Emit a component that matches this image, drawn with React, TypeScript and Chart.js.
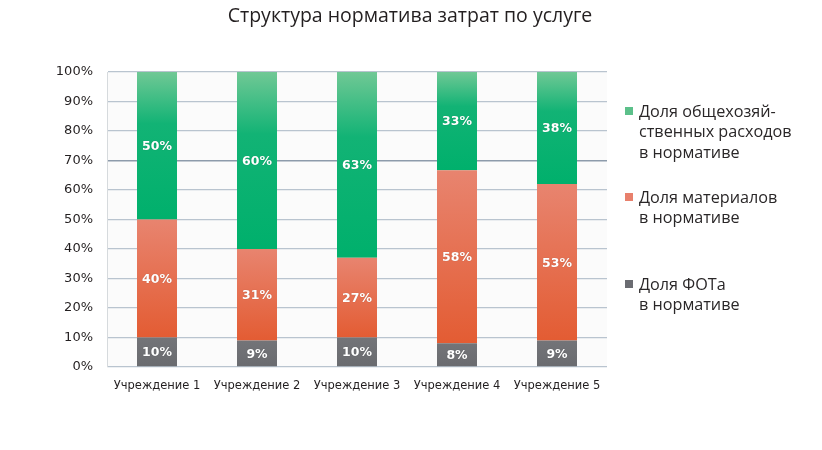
import { useEffect, useRef } from 'react';
import { Chart, registerables } from 'chart.js';

Chart.register(...registerables);

const titleText = 'Структура норматива затрат по услуге';
const categories = ['Учреждение 1', 'Учреждение 2', 'Учреждение 3', 'Учреждение 4', 'Учреждение 5'];
const fotShare = [10, 9, 10, 8, 9];
const materialsShare = [40, 31, 27, 58, 53];
const overheadShare = [50, 60, 63, 33, 38];
const yTickValues = [0, 10, 20, 30, 40, 50, 60, 70, 80, 90, 100];
const fotLegend = ['Доля ФОТа', 'в нормативе'];
const materialsLegend = ['Доля материалов', 'в нормативе'];
const overheadLegend = ['Доля общехозяй-', 'ственных расходов', 'в нормативе'];

const totals = categories.map((_, i) => fotShare[i] + materialsShare[i] + overheadShare[i]);
const normalize = (arr: number[]) => arr.map((v, i) => (v / totals[i]) * 100);
const rawSeries = [fotShare, materialsShare, overheadShare];

const GRAY = '#6e6f73';
const RED = '#e4603a';
const GREEN = '#00b26f';

function gradientFill(kind: 'gray' | 'red' | 'green') {
  return (ctx: any) => {
    const chart = ctx.chart;
    const y = chart.scales && chart.scales.y;
    const ds = ctx.datasetIndex;
    const i = ctx.dataIndex;
    const base = kind === 'gray' ? GRAY : kind === 'red' ? RED : GREEN;
    if (!y || i == null || !chart.chartArea) return base;
    let start = 0;
    for (let d = 0; d < ds; d++) start += chart.data.datasets[d].data[i] as number;
    const end = start + (chart.data.datasets[ds].data[i] as number);
    const pTop = y.getPixelForValue(end);
    const pBot = y.getPixelForValue(start);
    if (!isFinite(pTop) || !isFinite(pBot) || pTop === pBot) return base;
    const g = chart.ctx.createLinearGradient(0, pTop, 0, pBot);
    if (kind === 'green') {
      g.addColorStop(0, '#70c895');
      g.addColorStop(0.35, '#12b375');
      g.addColorStop(1, '#00b06c');
    } else if (kind === 'red') {
      g.addColorStop(0, '#e8846f');
      g.addColorStop(1, '#e35c33');
    } else {
      g.addColorStop(0, '#737478');
      g.addColorStop(1, '#6a6b6f');
    }
    return g;
  };
}

const overlayPlugin = {
  id: 'overlay',
  beforeDraw(chart: any) {
    const { ctx, chartArea } = chart;
    ctx.save();
    ctx.fillStyle = '#fbfbfb';
    ctx.fillRect(chartArea.left, chartArea.top, chartArea.right - chartArea.left, chartArea.bottom - chartArea.top);
    ctx.restore();
  },
  afterDatasetsDraw(chart: any) {
    const { ctx } = chart;
    ctx.save();
    ctx.font = 'bold 12.5px "DejaVu Sans"';
    ctx.fillStyle = '#ffffff';
    ctx.textAlign = 'center';
    ctx.textBaseline = 'middle';
    ctx.shadowColor = 'rgba(0,0,0,0.25)';
    ctx.shadowBlur = 1;
    chart.data.datasets.forEach((_: any, d: number) => {
      const meta = chart.getDatasetMeta(d);
      meta.data.forEach((el: any, i: number) => {
        const cy = (el.y + el.base) / 2 + 1;
        ctx.fillText(`${rawSeries[d][i]}%`, el.x, cy);
      });
    });
    ctx.restore();
  },
  afterDraw(chart: any) {
    const { ctx } = chart;
    ctx.save();
    ctx.font = '19.5px "Open Sans"';
    ctx.fillStyle = '#231f20';
    ctx.textAlign = 'center';
    ctx.textBaseline = 'middle';
    ctx.fillText(titleText, 410, 16);
    const items = [
      { lines: overheadLegend, color: '#5cc08a', y: 111 },
      { lines: materialsLegend, color: '#e8806c', y: 197 },
      { lines: fotLegend, color: '#6b6c72', y: 284 },
    ];
    ctx.textAlign = 'left';
    ctx.font = '16.2px "Open Sans"';
    items.forEach((it) => {
      ctx.fillStyle = it.color;
      ctx.fillRect(625, it.y - 4, 8, 8);
      ctx.fillStyle = '#2a2728';
      it.lines.forEach((line, k) => {
        ctx.fillText(line, 639, it.y + 1 + k * 20.5);
      });
    });
    ctx.restore();
  },
};

export default function App() {
  const ref = useRef<HTMLCanvasElement | null>(null);
  useEffect(() => {
    document.body.style.margin = '0';
    const canvas = ref.current;
    if (!canvas) return;
    const chart = new Chart(canvas, {
      type: 'bar',
      data: {
        labels: categories,
        datasets: [
          { label: fotLegend.join(' '), data: normalize(fotShare), backgroundColor: gradientFill('gray') as any },
          { label: materialsLegend.join(' '), data: normalize(materialsShare), backgroundColor: gradientFill('red') as any },
          { label: overheadLegend.join(' '), data: normalize(overheadShare), backgroundColor: gradientFill('green') as any },
        ],
      },
      options: {
        animation: false,
        responsive: false,
        devicePixelRatio: 1,
        layout: { padding: { top: 72, right: 215, left: 0, bottom: 0 } },
        plugins: {
          legend: { display: false },
          title: { display: false },
          tooltip: { enabled: false },
        },
        datasets: { bar: { categoryPercentage: 1, barPercentage: 0.4 } },
        scales: {
          x: {
            stacked: true,
            grid: { display: false, drawTicks: false },
            border: { display: false },
            ticks: { color: '#231f20', font: { family: 'DejaVu Sans', size: 11.5 }, padding: 12, maxRotation: 0 },
            afterFit: (s: any) => { s.height = 83; },
          },
          y: {
            stacked: true,
            min: 0,
            max: 100,
            afterBuildTicks: (s: any) => { s.ticks = yTickValues.map((v) => ({ value: v })); },
            grid: {
              drawTicks: false,
              color: (c: any) => (c.tick && c.tick.value === 70 ? '#8d9bab' : '#b9c4cf'),
              lineWidth: (c: any) => (c.tick && c.tick.value === 70 ? 1.6 : 1.3),
            },
            border: { display: true, color: '#d6dadd', width: 1 },
            ticks: {
              color: '#231f20',
              font: { family: 'DejaVu Sans', size: 13 },
              padding: 14,
              callback: (v: any) => `${v}%`,
            },
            afterFit: (s: any) => { s.width = 107; },
          },
        },
      },
      plugins: [overlayPlugin],
    });
    return () => chart.destroy();
  }, []);
  return <canvas ref={ref} width={822} height={450} style={{ display: 'block', width: 822, height: 450 }} />;
}
